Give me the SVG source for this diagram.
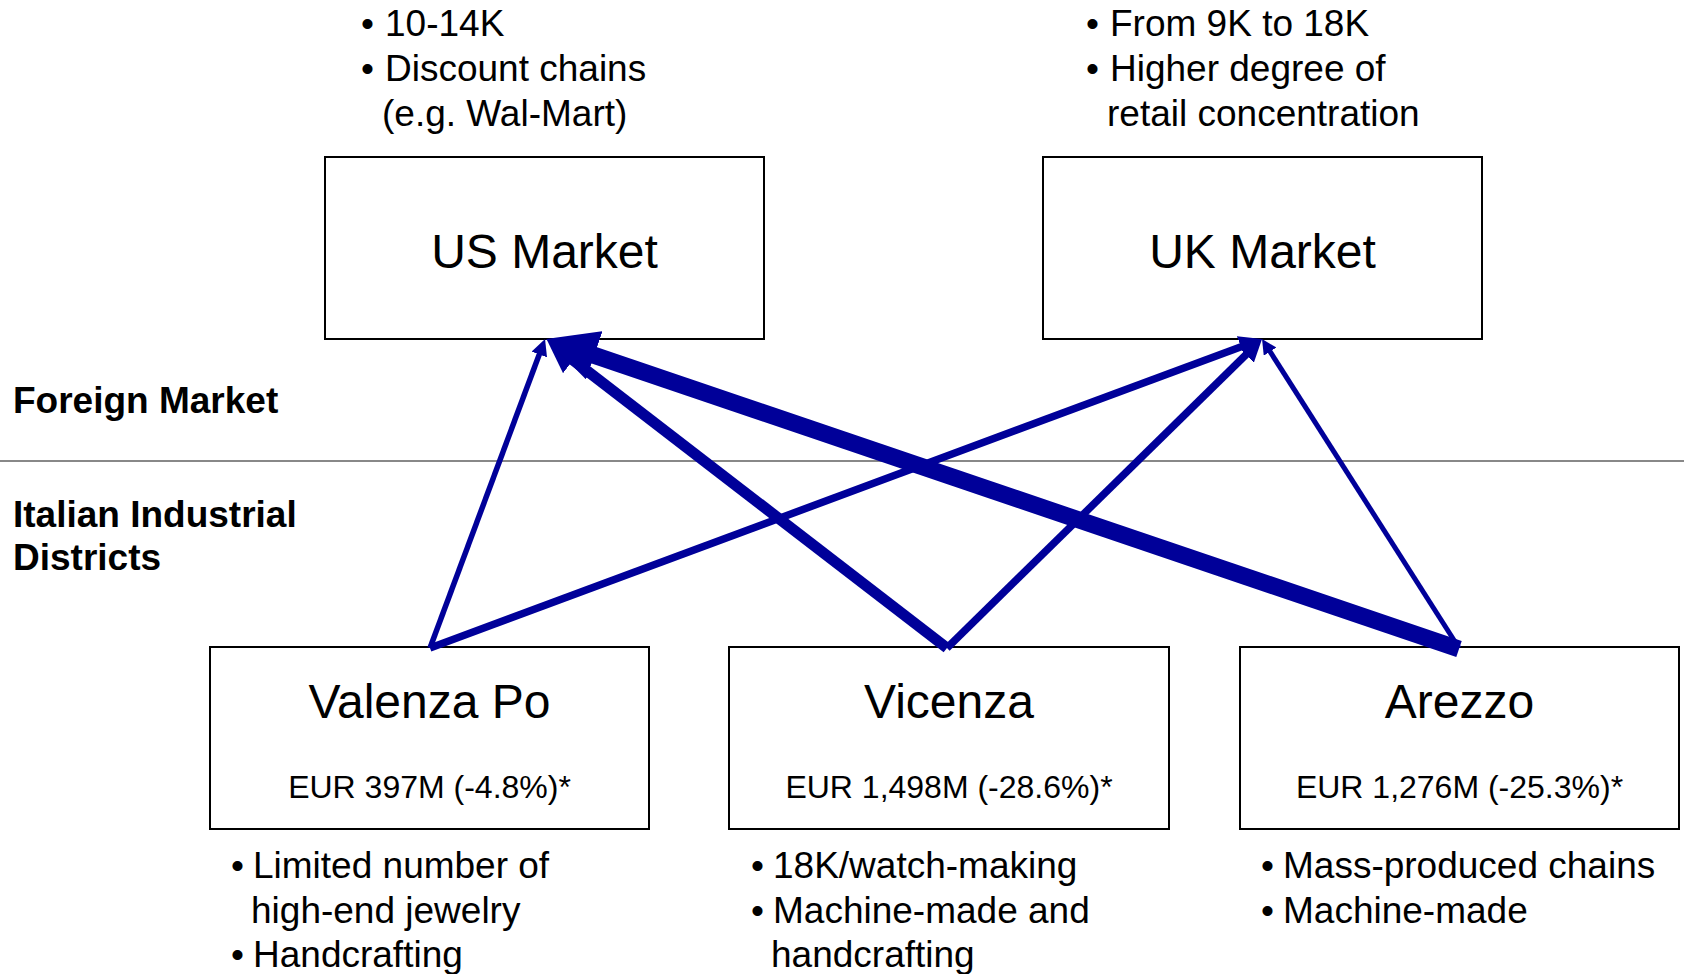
<svg xmlns="http://www.w3.org/2000/svg" width="1684" height="974" viewBox="0 0 1684 974">
<style>
text{font-family:"Liberation Sans",Arial,sans-serif;fill:#000}
.box{fill:#fff;stroke:#000;stroke-width:2}
.title{font-size:48px;text-anchor:middle}
.val{font-size:32px;text-anchor:middle}
.b{font-size:37px}
.lab{font-size:37px;font-weight:bold}
.arr{stroke:#000099;fill:none;stroke-linecap:butt}
</style>
<defs>
<marker id="ah" markerUnits="strokeWidth" markerWidth="3" markerHeight="3" refX="1" refY="1.5" orient="auto" viewBox="0 0 3 3">
<path d="M0,0 L3,1.5 L0,3 z" fill="#000099"/>
</marker>
</defs>
<line x1="0" y1="461" x2="1684" y2="461" stroke="#888" stroke-width="2"/>
<text class="lab" x="13" y="413">Foreign Market</text>
<text class="lab" x="13" y="527">Italian Industrial</text>
<text class="lab" x="13" y="570">Districts</text>
<g id="us">
<rect class="box" x="325" y="157" width="439" height="182"/>
<text class="title" x="544.5" y="268">US Market</text>
<text class="b" x="361" y="36">•</text><text class="b" x="385" y="36">10-14K</text>
<text class="b" x="361" y="81">•</text><text class="b" x="385" y="81">Discount chains</text>
<text class="b" x="382" y="126">(e.g. Wal-Mart)</text>
</g>
<g id="uk">
<rect class="box" x="1043" y="157" width="439" height="182"/>
<text class="title" x="1262.5" y="268">UK Market</text>
<text class="b" x="1086" y="36">•</text><text class="b" x="1110" y="36">From 9K to 18K</text>
<text class="b" x="1086" y="81">•</text><text class="b" x="1110" y="81">Higher degree of</text>
<text class="b" x="1107" y="126">retail concentration</text>
</g>
<g id="valenza">
<rect class="box" x="210" y="647" width="439" height="182"/>
<text class="title" x="429.5" y="718">Valenza Po</text>
<text class="val" x="429.5" y="798">EUR 397M (-4.8%)*</text>
<text class="b" x="231" y="878">•</text><text class="b" x="253" y="878">Limited number of</text>
<text class="b" x="251" y="923">high-end jewelry</text>
<text class="b" x="231" y="967">•</text><text class="b" x="253" y="967">Handcrafting</text>
</g>
<g id="vicenza">
<rect class="box" x="729" y="647" width="440" height="182"/>
<text class="title" x="949" y="718">Vicenza</text>
<text class="val" x="949" y="798">EUR 1,498M (-28.6%)*</text>
<text class="b" x="751" y="878">•</text><text class="b" x="773" y="878">18K/watch-making</text>
<text class="b" x="751" y="923">•</text><text class="b" x="773" y="923">Machine-made and</text>
<text class="b" x="771" y="967">handcrafting</text>
</g>
<g id="arezzo">
<rect class="box" x="1240" y="647" width="439" height="182"/>
<text class="title" x="1459.5" y="718">Arezzo</text>
<text class="val" x="1459.5" y="798">EUR 1,276M (-25.3%)*</text>
<text class="b" x="1261" y="878">•</text><text class="b" x="1283" y="878">Mass-produced chains</text>
<text class="b" x="1261" y="923">•</text><text class="b" x="1283" y="923">Machine-made</text>
</g>
<g id="connectors">
<line class="arr" x1="430" y1="648" x2="541.2" y2="349.3" stroke-width="5.5" marker-end="url(#ah)"/>
<line class="arr" x1="430" y1="648" x2="1247.9" y2="344.2" stroke-width="7.5" marker-end="url(#ah)"/>
<line class="arr" x1="947" y1="648" x2="564.4" y2="353.4" stroke-width="11" marker-end="url(#ah)"/>
<line class="arr" x1="947" y1="648" x2="1251.3" y2="349.5" stroke-width="7.5" marker-end="url(#ah)"/>
<line class="arr" x1="1459" y1="649" x2="578.2" y2="349.9" stroke-width="17" marker-end="url(#ah)"/>
<line class="arr" x1="1459" y1="648" x2="1267.4" y2="347.4" stroke-width="5" marker-end="url(#ah)"/>
</g>
</svg>
